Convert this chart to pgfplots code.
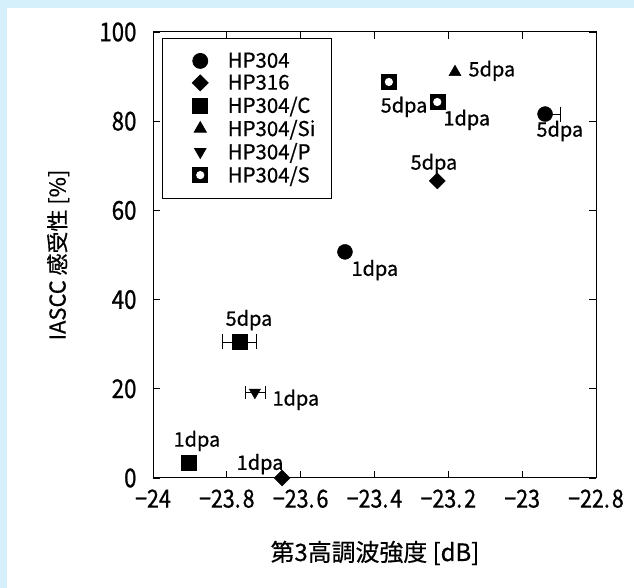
\documentclass[border=0pt]{standalone}
\usepackage{fontspec}
\setmainfont{Noto Sans CJK JP}[FakeBold=0.6]
\newfontfamily\latc{Noto Sans CJK JP}[FakeStretch=0.86, FakeBold=0.8]
\usepackage{pgfplots}
\pgfplotsset{compat=1.18}
\definecolor{bgblue}{HTML}{D5EFFB}

\pgfdeclareplotmark{sqcirc}{%
  \pgfpathrectangle{\pgfqpoint{-\pgfplotmarksize}{-\pgfplotmarksize}}{\pgfqpoint{2\pgfplotmarksize}{2\pgfplotmarksize}}%
  \pgfusepathqfillstroke
  \begin{pgfscope}%
  \pgfsetfillcolor{white}%
  \pgfpathcircle{\pgfpointorigin}{0.55\pgfplotmarksize}%
  \pgfusepathqfill
  \end{pgfscope}%
}
\pgfdeclareplotmark{dmd}{%
  \pgfpathmoveto{\pgfqpoint{0pt}{\pgfplotmarksize}}%
  \pgfpathlineto{\pgfqpoint{\pgfplotmarksize}{0pt}}%
  \pgfpathlineto{\pgfqpoint{0pt}{-\pgfplotmarksize}}%
  \pgfpathlineto{\pgfqpoint{-\pgfplotmarksize}{0pt}}%
  \pgfpathclose
  \pgfusepathqfillstroke
}

\begin{document}
\begin{tikzpicture}[x=1bp,y=1bp]
\fill[bgblue] (0,0) rectangle (634,588);
\fill[white] (7,0) rectangle (634,580);
\begin{axis}[
  at={(153bp,110bp)}, anchor=south west,
  scale only axis, width=443bp, height=446bp,
  xmin=-24, xmax=-22.8, ymin=0, ymax=100,
  xtick={-24,-23.8,-23.6,-23.4,-23.2,-23,-22.8},
  xticklabels={−24,−23.\hspace{2bp}8,−23.\hspace{2bp}6,−23.\hspace{2bp}4,−23.\hspace{2bp}2,−23,−22.\hspace{2bp}8},
  ytick={0,20,40,60,80,100},
  /pgf/number format/assume math mode=true,
  tick align=inside, major tick length=7bp,
  xtick pos=both, ytick pos=both,
  tick style={black, line width=0.8pt},
  axis line style={line width=1pt},
  tick label style={font=\latc\fontsize{25}{25}\selectfont},
  xticklabel style={yshift=-8bp},
  yticklabel style={xshift=-13bp, font=\latc\fontsize{26}{26}\selectfont},
  xlabel={第3高調波強度 [dB]},
  ylabel={IASCC 感受性 [\%]},
  xlabel style={font=\fontsize{24}{24}\selectfont, at={(axis description cs:0.501,-0.168)}, anchor=center},
  ylabel style={font=\fontsize{22}{22}\selectfont, at={(axis description cs:-0.214,0.5)}, anchor=center, rotate=0},
  legend style={at={(axis description cs:0.02,0.987)}, anchor=north west, draw=black, line width=0.8pt,
    font=\fontsize{20.5}{20.5}\selectfont, inner xsep=14bp, inner ysep=12bp, row sep=0.5bp,
    nodes={inner sep=2.5bp}},
  legend cell align=left,
  legend image code/.code={\path[draw=none,fill=none] (0bp,0bp) -- (49bp,0bp);
    \draw[mark repeat=2,mark phase=2,#1,only marks] plot coordinates {(0bp,0bp)(24bp,0bp)(49bp,0bp)};},
  error bars/error bar style={line width=0.8pt, black},
]
\addplot[only marks, mark=*, mark size=7.5bp, black, mark options={fill=black},
  error bars/.cd, x dir=plus, x explicit]
  coordinates {(-23.48,50.7) +- (0,0) (-22.938,81.6) +- (0.04,0)};
\addlegendentry{HP304}
\addplot[only marks, mark=dmd, mark size=8bp, black, mark options={fill=black}]
  coordinates {(-23.65,0) (-23.23,66.6)};
\addlegendentry{HP316}
\addplot[only marks, mark=square*, mark size=7.5bp, black, mark options={fill=black},
  error bars/.cd, x dir=both, x explicit]
  coordinates {(-23.903,3.5) +- (0,0) (-23.766,30.5) +- (0.046,0)};
\addlegendentry{HP304/C}
\addplot[only marks, mark=triangle*, mark size=7bp, black, mark options={fill=black}]
  coordinates {(-23.182,91.0)};
\addlegendentry{HP304/Si}
\addplot[only marks, mark=triangle*, mark size=6.5bp, black, mark options={fill=black, rotate=180},
  error bars/.cd, x dir=both, x explicit]
  coordinates {(-23.724,19.2) +- (0.027,0)};
\addlegendentry{HP304/P}
\addplot[only marks, mark=sqcirc, mark size=7.5bp, black, mark options={fill=black}]
  coordinates {(-23.361,88.8) (-23.23,84.3)};
\addlegendentry{HP304/S}

\begin{scope}[font=\fontsize{20}{20}\selectfont]
\node at (axis cs:-23.399,46.6) {1dpa};
\node at (axis cs:-22.898,77.8) {5dpa};
\node at (axis cs:-23.239,70.4) {5dpa};
\node at (axis cs:-23.082,91.3) {5dpa};
\node at (axis cs:-23.32,83.2) {5dpa};
\node at (axis cs:-23.15,80.3) {1dpa};
\node at (axis cs:-23.74,35.4) {5dpa};
\node at (axis cs:-23.613,17.5) {1dpa};
\node at (axis cs:-23.881,8.3) {1dpa};
\node at (axis cs:-23.71,3.1) {1dpa};
\end{scope}
\end{axis}
\pgfresetboundingbox
\path[use as bounding box] (0,0) rectangle (634,588);
\end{tikzpicture}
\end{document}
